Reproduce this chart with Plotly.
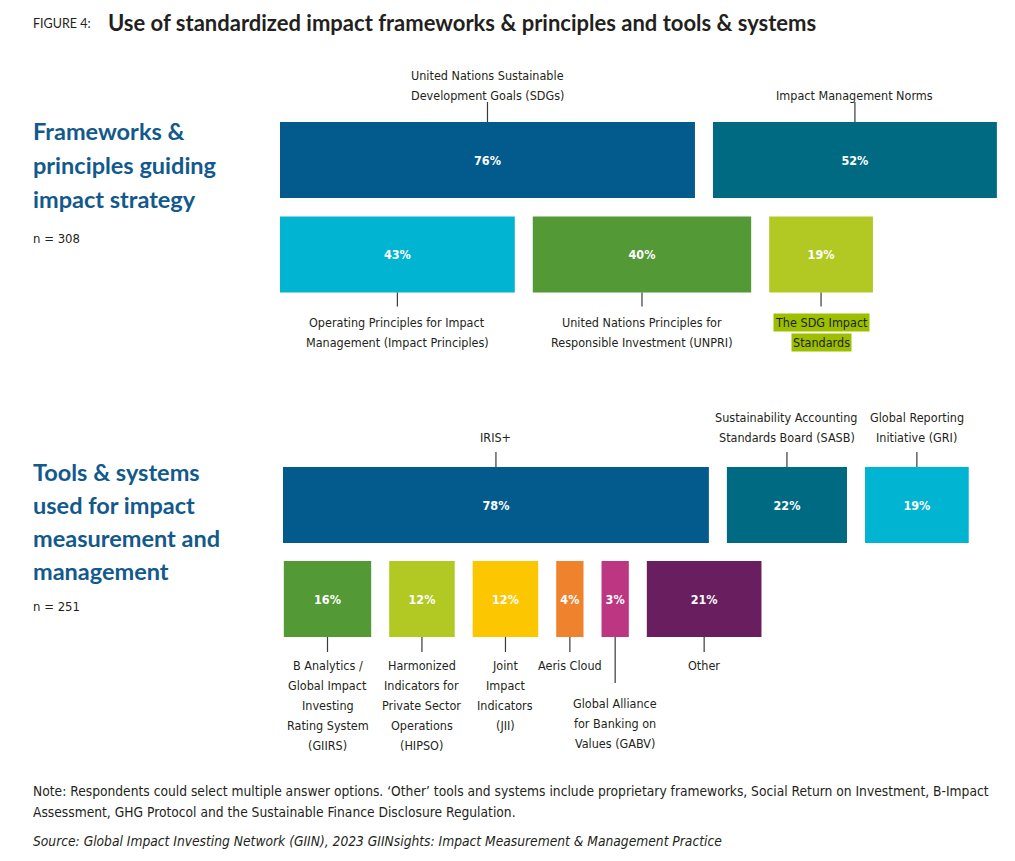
import plotly.graph_objects as go

# Frameworks & principles (n = 308)
fw_top_labels = ["United Nations Sustainable<br>Development Goals (SDGs)", "Impact Management Norms"]
fw_top_values = [76, 52]
fw_bottom_labels = ["Operating Principles for Impact<br>Management (Impact Principles)",
                    "United Nations Principles for<br>Responsible Investment (UNPRI)",
                    "The SDG Impact<br>Standards"]
fw_bottom_values = [43, 40, 19]

# Tools & systems (n = 251)
tools_top_labels = ["IRIS+", "Sustainability Accounting<br>Standards Board (SASB)",
                    "Global Reporting<br>Initiative (GRI)"]
tools_top_values = [78, 22, 19]
tools_bottom_labels = ["B Analytics /<br>Global Impact<br>Investing<br>Rating System<br>(GIIRS)",
                       "Harmonized<br>Indicators for<br>Private Sector<br>Operations<br>(HIPSO)",
                       "Joint<br>Impact<br>Indicators<br>(JII)",
                       "Aeris Cloud",
                       "Global Alliance<br>for Banking on<br>Values (GABV)",
                       "Other"]
tools_bottom_values = [16, 12, 12, 4, 3, 21]

# colours
DARK_BLUE = "#035a8c"
TEAL = "#006a82"
CYAN = "#00b4d2"
GREEN = "#539935"
LIME = "#b1c922"
YELLOW = "#fcc600"
ORANGE = "#ef822c"
MAGENTA = "#bd3682"
PURPLE = "#691e5f"
HEAD_BLUE = "#12598c"
TEXT = "#231f20"

fw_top_colors = [DARK_BLUE, TEAL]
fw_bottom_colors = [CYAN, GREEN, LIME]
tools_top_colors = [DARK_BLUE, TEAL, CYAN]
tools_bottom_colors = [GREEN, LIME, YELLOW, ORANGE, MAGENTA, PURPLE]

W, H = 1015, 861
PX_PER_UNIT = 5.46
ORIGIN_PX = 280
GAP = 18 / PX_PER_UNIT
MIN_W = 5          # smallest boxes still need room for their label
BAR_H = 76
LINE_H = 20

NARROW = "DejaVu Sans Condensed, Liberation Sans Narrow, sans-serif"
GEO = "Lato, Noto Sans, sans-serif"

fig = go.Figure()


def add_row(values, labels, colors, y_mid, offset, side, leader, text_dist, long_leaders=None):
    long_leaders = long_leaders or {}
    widths = [max(v, MIN_W) for v in values]
    starts = []
    pos = offset
    for w in widths:
        starts.append(pos)
        pos += w + GAP
    fig.add_trace(go.Bar(
        orientation="h",
        x=widths, base=starts, y=[y_mid] * len(values), width=BAR_H,
        marker=dict(color=colors, line=dict(width=0)),
        text=[f"<b>{v}%</b>" for v in values],
        textposition="inside", insidetextanchor="middle",
        textfont=dict(family=NARROW, size=12.5, color="white"),
        textangle=0, hoverinfo="skip", showlegend=False,
    ))
    for i, (s, w) in enumerate(zip(starts, widths)):
        cx = s + w / 2
        ln, dist = long_leaders.get(i, (leader, text_dist))
        lines = labels[i].split("<br>")
        if side == "above":
            y0 = y_mid - BAR_H / 2
            y1 = y0 - ln
            first = y0 - dist - (len(lines) - 1) * LINE_H
        else:
            y0 = y_mid + BAR_H / 2
            y1 = y0 + ln
            first = y0 + dist
        fig.add_shape(type="line", xref="x", yref="y", x0=cx, x1=cx, y0=y0, y1=y1,
                      line=dict(color="#3a3a3a", width=1.2))
        extra = {}
        if labels[i].startswith("The SDG Impact"):
            extra = dict(bgcolor="#9cbf00")
        for k, line in enumerate(lines):
            fig.add_annotation(x=cx, y=first + k * LINE_H, xref="x", yref="y", text=line,
                               showarrow=False, xanchor="center", yanchor="middle",
                               font=dict(family=NARROW, size=12.5, color=TEXT),
                               borderpad=1, **extra)


add_row(fw_top_values, fw_top_labels, fw_top_colors, 160, 0, "above", 20, 27)
add_row(fw_bottom_values, fw_bottom_labels, fw_bottom_colors, 254.5, 0, "below", 14, 30)
add_row(tools_top_values, tools_top_labels, tools_top_colors, 505, 0.55, "above", 15, 30)
add_row(tools_bottom_values, tools_bottom_labels, tools_bottom_colors, 599, 0.7, "below", 15, 28,
        long_leaders={4: (46, 66)})


def px(x, y):
    return x / W, 1 - y / H


def text_at(x, y, txt, size, family, color=TEXT):
    ax, ay = px(x, y)
    fig.add_annotation(x=ax, y=ay, xref="paper", yref="paper", text=txt, showarrow=False,
                       xanchor="left", yanchor="middle", align="left",
                       font=dict(family=family, size=size, color=color))


# title
text_at(31, 24, "FIGURE 4:", 12.5, GEO)
text_at(106, 22, "<b>Use of standardized impact frameworks &amp; principles and tools &amp; systems</b>",
        22, GEO)

# section headings
for i, line in enumerate(["Frameworks &amp;", "principles guiding", "impact strategy"]):
    text_at(31, 131 + i * 34, f"<b>{line}</b>", 23.5, GEO, HEAD_BLUE)
text_at(31, 239, "n = 308", 13, NARROW)

for i, line in enumerate(["Tools &amp; systems", "used for impact", "measurement and", "management"]):
    text_at(31, 472 + i * 33, f"<b>{line}</b>", 23.5, GEO, HEAD_BLUE)
text_at(31, 606, "n = 251", 13, NARROW)

# notes
text_at(31, 791, "Note: Respondents could select multiple answer options. ‘Other’ tools and systems include "
        "proprietary frameworks, Social Return on Investment, B-Impact", 13.7, NARROW)
text_at(31, 812, "Assessment, GHG Protocol and the Sustainable Finance Disclosure Regulation.", 13.7, NARROW)
text_at(31, 841, "<i>Source: Global Impact Investing Network (GIIN), 2023 GIINsights: Impact Measurement "
        "&amp; Management Practice</i>", 13.7, NARROW)

fig.update_layout(
    width=W, height=H, autosize=False,
    margin=dict(l=0, r=0, t=0, b=0),
    paper_bgcolor="white", plot_bgcolor="white",
    barmode="overlay",
    xaxis=dict(range=[-ORIGIN_PX / PX_PER_UNIT, (W - ORIGIN_PX) / PX_PER_UNIT],
               visible=False, fixedrange=True),
    yaxis=dict(range=[H, 0], visible=False, fixedrange=True),
)

fig.write_html("out.html", config={"displayModeBar": False},
               post_script="document.body.style.margin='0';")
